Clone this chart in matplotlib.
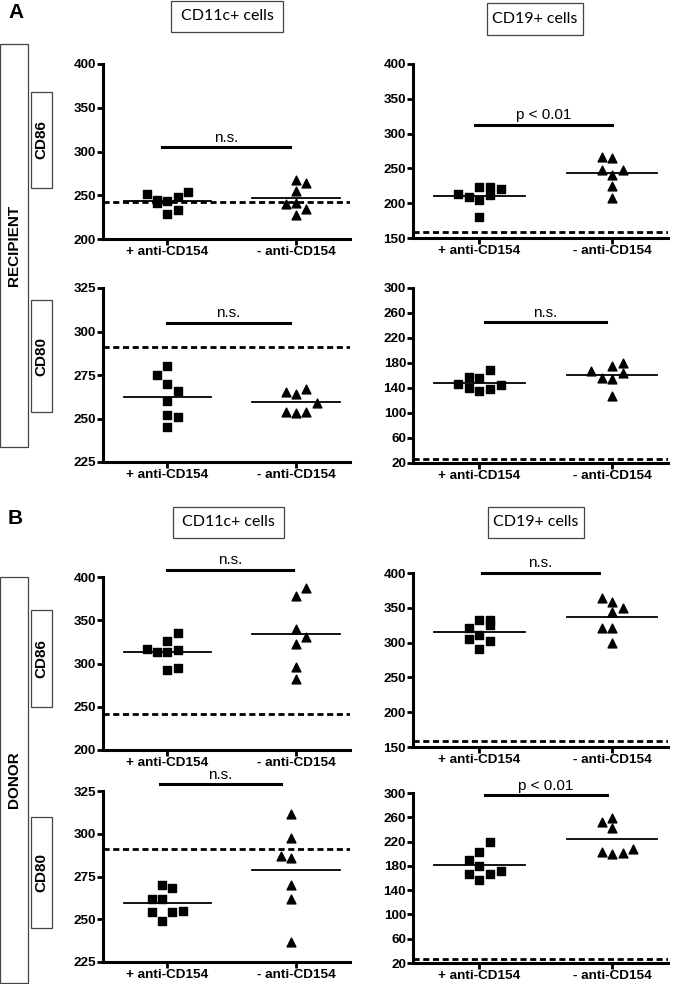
import numpy as np
import matplotlib
matplotlib.use('Agg')
import matplotlib.pyplot as plt
from matplotlib.patches import Rectangle

plt.rcParams['font.family'] = ['Liberation Sans', 'DejaVu Sans']

W, H = 676, 984
groups = ['+ anti-CD154', '- anti-CD154']

# recipient CD86
a86_l_sq = [251, 241, 244, 248, 254, 229, 233, 245]
a86_l_sq_col = [-2, -1, 0, 1, 2, 0, 1, -1]
a86_l_tr = [268, 264, 255, 240, 241, 234.5, 228]
a86_l_tr_col = [0, 1, 0, -1, 0, 1, 0]
a86_r_sq = [213, 209, 223, 205, 223, 212, 220, 180]
a86_r_sq_col = [-2, -1, 0, 0, 1, 1, 2, 0]
a86_r_tr = [267, 265, 248, 241, 248, 224, 207]
a86_r_tr_col = [-1, 0, -1, 0, 1, 0, 0]
# recipient CD80
a80_l_sq = [280, 275, 270, 266, 260, 252, 251, 245]
a80_l_sq_col = [0, -1, 0, 1, 0, 0, 1, 0]
a80_l_tr = [265, 264, 267, 259, 254, 253, 254]
a80_l_tr_col = [-1, 0, 1, 2, -1, 0, 1]
a80_r_sq = [147, 158, 140, 156, 135, 168, 139, 145]
a80_r_sq_col = [-2, -1, -1, 0, 0, 1, 1, 2]
a80_r_tr = [167, 156, 175, 155, 180, 164, 127]
a80_r_tr_col = [-2, -1, 0, 0, 1, 1, 0]
# donor CD86
b86_l_sq = [317, 313, 326, 313, 335, 316, 292, 295]
b86_l_sq_col = [-2, -1, 0, 0, 1, 1, 0, 1]
b86_l_tr = [387, 378, 340, 331, 323, 296, 282]
b86_l_tr_col = [1, 0, 0, 1, 0, 0, 0]
b86_r_sq = [321, 333, 333, 326, 305, 311, 302, 291]
b86_r_sq_col = [-1, 0, 1, 1, -1, 0, 1, 0]
b86_r_tr = [364, 359, 344, 349, 321, 321, 300]
b86_r_tr_col = [-1, 0, 0, 1, -1, 0, 0]
# donor CD80
b80_l_sq = [270, 268, 262, 262, 254, 254, 255, 249]
b80_l_sq_col = [-0.5, 0.5, -1.5, -0.5, -1.5, 0.5, 1.5, -0.5]
b80_l_tr = [311.5, 297.7, 286.7, 285.7, 269.9, 261.9, 236.8]
b80_l_tr_col = [-0.5, -0.5, -1.5, -0.5, -0.5, -0.5, -0.5]
b80_r_sq = [219, 202.5, 190, 179, 167, 166, 172, 156]
b80_r_sq_col = [1, 0, -1, 0, -1, 1, 2, 0]
b80_r_tr = [252, 259, 243, 202.5, 199, 201, 208]
b80_r_tr_col = [-1, 0, 0, -1, 0, 1, 2]

# dashed reference levels
ref86_l, ref86_r, ref80_l, ref80_r = 242, 158, 291, 27

fig = plt.figure(figsize=(W / 100, H / 100), dpi=100)


def px_axes(x0, x1, y0, y1):
    return fig.add_axes([x0 / W, 1 - y1 / H, (x1 - x0) / W, (y1 - y0) / H])


def panel(ax, sq, sq_col, tr, tr_col, ylim, yticks, ref, sig, sigtxt):
    ax.scatter(1 + 0.08 * np.array(sq_col), sq, marker='s', s=32, color='black', zorder=3)
    ax.scatter(2 + 0.08 * np.array(tr_col), tr, marker='^', s=40, color='black', zorder=3)
    for x, v in [(1, sq), (2, tr)]:
        m = np.mean(v)
        ax.plot([x - 0.34, x + 0.34], [m, m], color='black', lw=1.3, zorder=2)
    ax.axhline(ref, color='black', lw=2, linestyle=(0, (2.2, 1.3)), zorder=1)
    x1, x2, ys = sig
    ax.plot([x1, x2], [ys, ys], color='black', lw=2.2, clip_on=False)
    ax.text((x1 + x2) / 2, ys + (ylim[1] - ylim[0]) * 0.015, sigtxt,
            ha='center', va='bottom', fontsize=11)
    ax.set_xlim(0.5, 2.42)
    ax.set_ylim(*ylim)
    ax.set_yticks(yticks)
    ax.set_xticks([1, 2])
    ax.set_xticklabels(groups)
    for s in ['top', 'right']:
        ax.spines[s].set_visible(False)
    for s in ['left', 'bottom']:
        ax.spines[s].set_linewidth(2.2)
    ax.tick_params(width=2, length=4, labelsize=9.7, pad=1)
    for lab in ax.get_xticklabels() + ax.get_yticklabels():
        lab.set_fontweight('bold')


t86 = [200, 250, 300, 350, 400]
t86r = [150, 200, 250, 300, 350, 400]
t80 = [225, 250, 275, 300, 325]
t80r = [20, 60, 100, 140, 180, 220, 260, 300]

ax = px_axes(103, 350, 64, 239)
panel(ax, a86_l_sq, a86_l_sq_col, a86_l_tr, a86_l_tr_col, (200, 400), t86, ref86_l, (0.96, 1.95, 305), 'n.s.')
ax = px_axes(413, 668, 64, 238)
panel(ax, a86_r_sq, a86_r_sq_col, a86_r_tr, a86_r_tr_col, (150, 400), t86r, ref86_r, (0.97, 2.0, 313), 'p < 0.01')
ax = px_axes(103, 350, 288, 462)
panel(ax, a80_l_sq, a80_l_sq_col, a80_l_tr, a80_l_tr_col, (225, 325), t80, ref80_l, (1.0, 1.95, 305), 'n.s.')
ax = px_axes(413, 668, 288, 463)
panel(ax, a80_r_sq, a80_r_sq_col, a80_r_tr, a80_r_tr_col, (20, 300), t80r, ref80_r, (1.04, 1.95, 245), 'n.s.')
ax = px_axes(103, 350, 577, 750)
panel(ax, b86_l_sq, b86_l_sq_col, b86_l_tr, b86_l_tr_col, (200, 400), t86, ref86_l, (1.0, 1.98, 408), 'n.s.')
ax = px_axes(413, 668, 573, 747)
panel(ax, b86_r_sq, b86_r_sq_col, b86_r_tr, b86_r_tr_col, (150, 400), t86r, ref86_r, (1.02, 1.9, 400), 'n.s.')
ax = px_axes(103, 350, 791, 962)
panel(ax, b80_l_sq, b80_l_sq_col, b80_l_tr, b80_l_tr_col, (225, 325), t80, ref80_l, (0.94, 1.88, 329), 'n.s.')
ax = px_axes(413, 668, 793, 963)
panel(ax, b80_r_sq, b80_r_sq_col, b80_r_tr, b80_r_tr_col, (20, 300), t80r, ref80_r, (1.04, 1.96, 296), 'p < 0.01')


def box(x0, x1, y0, y1, text, rot=0, **kw):
    fig.patches.append(Rectangle((x0 / W, 1 - y1 / H), (x1 - x0) / W, (y1 - y0) / H,
                                 transform=fig.transFigure, fill=False,
                                 edgecolor='#444444', lw=0.9))
    fig.text((x0 + x1) / 2 / W, 1 - (y0 + y1) / 2 / H, text, rotation=rot,
             ha='center', va='center', **kw)


fig.text(8 / W, 1 - 13 / H, 'A', fontsize=15, fontweight='bold', va='center')
fig.text(8 / W, 1 - 518 / H, 'B', fontsize=15, fontweight='bold', va='center')

cellfont = dict(fontsize=11.5, family=['Lato', 'DejaVu Sans'])
box(171, 283, 1, 32, 'CD11c+ cells', **cellfont)
box(487, 583, 3, 35, 'CD19+ cells', **cellfont)
box(173, 284, 507, 538, 'CD11c+ cells', **cellfont)
box(488, 584, 507, 538, 'CD19+ cells', **cellfont)

lab = dict(fontsize=11, fontweight='bold')
box(0, 28, 44, 447, 'RECIPIENT', rot=90, **lab)
box(31, 52, 92, 188, 'CD86', rot=90, **lab)
box(31, 52, 300, 412, 'CD80', rot=90, **lab)
box(0, 28, 577, 983, 'DONOR', rot=90, **lab)
box(31, 52, 610, 707, 'CD86', rot=90, **lab)
box(31, 52, 817, 928, 'CD80', rot=90, **lab)

fig.savefig('out.png', dpi=100)
